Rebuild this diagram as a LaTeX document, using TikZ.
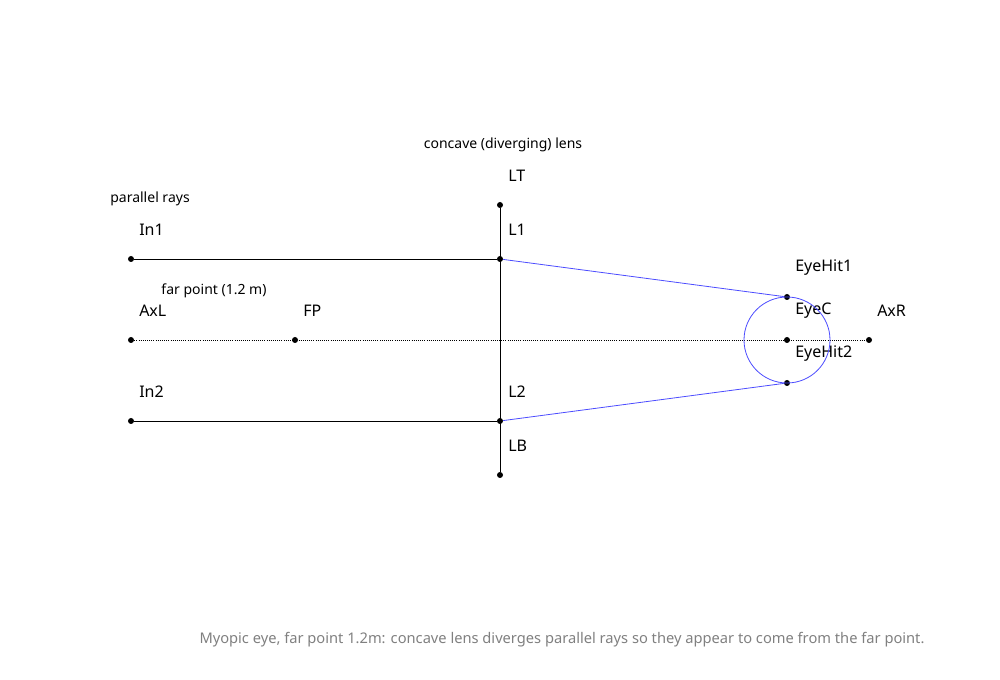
\documentclass[tikz,border=0pt]{standalone}
\usepackage{fontspec}
\setmainfont{Noto Sans}
\begin{document}
\begin{tikzpicture}[
x=0.75pt, y=-0.75pt,
dot/.style={circle, fill, inner sep=0 pt, minimum size=4.5 pt},
lbl/.style={anchor=west, font=\bfseries\fontsize{12}{14}\selectfont, inner sep=0 pt},
note/.style={font=\fontsize{10.5}{12}\selectfont, inner sep=0 pt},
ray/.style={blue!70, line width=0.6 pt}
]
\useasboundingbox (0,0) rectangle (1000,680);

% points
\foreach \n/\x/\y in {In1/131/259, L1/500/259, LT/500/205, LB/500/475,
  L2/500/421, In2/131/421, AxL/131/340, FP/295/340, EyeC/787/340,
  AxR/869/340, EyeHit1/787/297, EyeHit2/787/383}
{
  \node [dot] (\n) at (\x,\y) {};
  \node [lbl] at ([shift={(8,-29)}]\n) {\n};
}

% lens and axis
\draw [line width=0.6 pt] (LT) -- (LB);
\draw [densely dotted, line width=0.6 pt] (AxL) -- (AxR);

% incoming rays
\draw [line width=0.6 pt] (In1) -- (L1);
\draw [line width=0.6 pt] (In2) -- (L2);

% diverged rays and eye
\draw [ray] (L1) -- (EyeHit1);
\draw [ray] (L2) -- (EyeHit2);
\draw [ray] (EyeC) circle [radius=43];

% notes
\node [note] at (503,145) {concave (diverging) lens};
\node [note] at (150,199) {parallel rays};
\node [note] at (214,291) {far point (1.2 m)};
\node [note, gray, font=\fontsize{11}{13}\selectfont] at (562,640)
{Myopic eye, far point 1.2m: concave lens diverges parallel rays so they appear to come from the far point.};
\end{tikzpicture}
\end{document}
